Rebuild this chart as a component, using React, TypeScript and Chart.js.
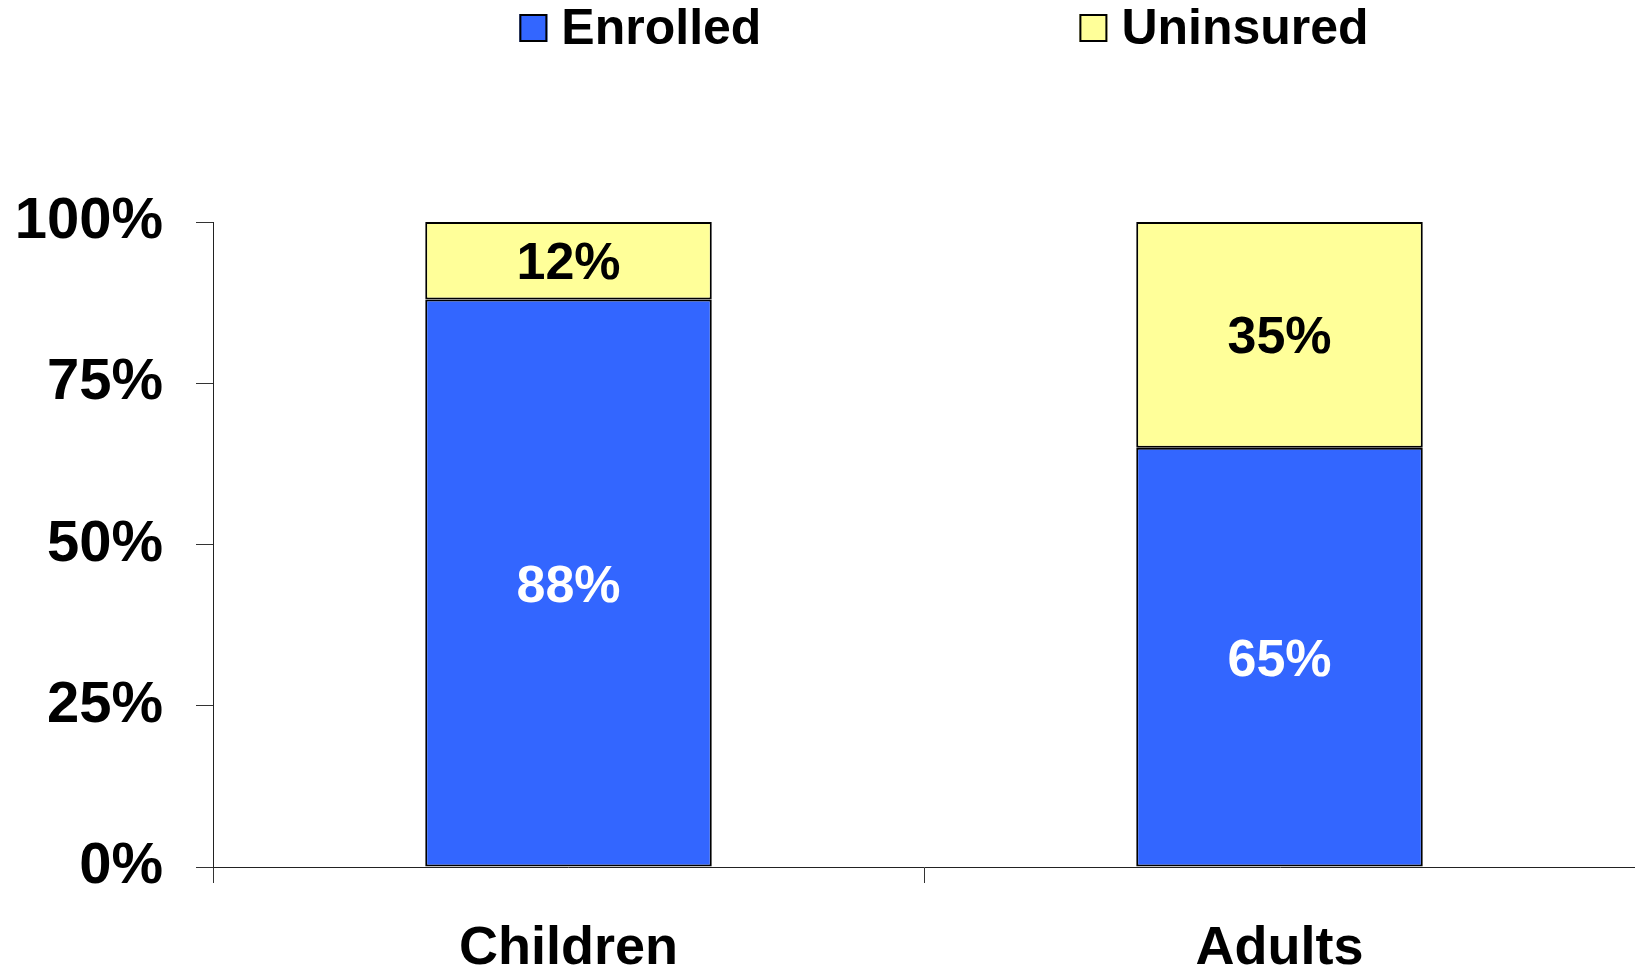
import React, { useEffect, useRef } from "react";
import { Chart, registerables } from "chart.js";

Chart.register(...registerables);

const categories = ["Children", "Adults"];
const enrolled = [88, 65];
const uninsured = [12, 35];
const seriesNames = ["Enrolled", "Uninsured"];
const seriesColors = ["#3366FF", "#FFFF99"];
const valueLabelColors = ["#FFFFFF", "#000000"];
const yTickValues = [0, 25, 50, 75, 100];

const FONT = "'Liberation Sans', Arial, Helvetica, sans-serif";

const valueLabelPlugin = {
  id: "valueLabels",
  afterDatasetsDraw(chart: any) {
    const ctx = chart.ctx;
    ctx.save();
    ctx.font = `bold 52px ${FONT}`;
    ctx.textAlign = "center";
    ctx.textBaseline = "alphabetic";
    chart.data.datasets.forEach((ds: any, di: number) => {
      const meta = chart.getDatasetMeta(di);
      meta.data.forEach((el: any, i: number) => {
        const v = ds.data[i];
        const cy = (el.y + el.base) / 2;
        ctx.fillStyle = valueLabelColors[di];
        ctx.fillText(v + "%", el.x, cy + 0.716 * 52 / 2);
      });
    });
    ctx.restore();
  },
};

const legendPlugin = {
  id: "customLegend",
  afterDraw(chart: any) {
    const ctx = chart.ctx;
    ctx.save();
    const size = 50;
    ctx.font = `bold ${size}px ${FONT}`;
    const box = 28;
    const gapBoxText = 14;
    const itemGap = 318;
    const widths = chart.data.datasets.map((ds: any) => ctx.measureText(ds.label).width);
    let total = 0;
    widths.forEach((w: number, i: number) => {
      total += box + gapBoxText + w + (i > 0 ? itemGap : 0);
    });
    const centerX = 944;
    let x = centerX - total / 2;
    const boxTop = 14;
    const baseline = 44;
    chart.data.datasets.forEach((ds: any, i: number) => {
      ctx.fillStyle = ds.backgroundColor;
      ctx.fillRect(x, boxTop, box, box);
      ctx.strokeStyle = "#000";
      ctx.lineWidth = 2;
      ctx.strokeRect(x + 1, boxTop + 1, box - 2, box - 2);
      ctx.fillStyle = "#000";
      ctx.textAlign = "left";
      ctx.textBaseline = "alphabetic";
      ctx.fillText(ds.label, x + box + gapBoxText, baseline);
      x += box + gapBoxText + widths[i] + itemGap;
    });
    ctx.restore();
  },
};

export default function App() {
  const canvasRef = useRef<HTMLCanvasElement | null>(null);

  useEffect(() => {
    document.body.style.margin = "0";
    const canvas = canvasRef.current;
    if (!canvas) return;
    const chart = new Chart(canvas, {
      type: "bar",
      data: {
        labels: categories,
        datasets: [
          {
            label: seriesNames[0],
            data: enrolled,
            backgroundColor: seriesColors[0],
            borderColor: "#000000",
            borderWidth: 2,
            borderSkipped: false,
            inflateAmount: 0,
            barPercentage: 0.403,
            categoryPercentage: 1,
          },
          {
            label: seriesNames[1],
            data: uninsured,
            backgroundColor: seriesColors[1],
            borderColor: "#000000",
            borderWidth: 2,
            borderSkipped: false,
            inflateAmount: 0,
            barPercentage: 0.403,
            categoryPercentage: 1,
          },
        ],
      },
      options: {
        animation: false,
        responsive: true,
        maintainAspectRatio: false,
        layout: { padding: { top: 222, left: 15, right: 0, bottom: 0 } },
        plugins: {
          legend: { display: false },
          tooltip: { enabled: false },
        },
        scales: {
          x: {
            stacked: true,
            offset: true,
            afterFit: (axis: any) => {
              axis.height = 103;
            },
            grid: {
              offset: true,
              drawOnChartArea: false,
              drawTicks: true,
              tickLength: 16,
              color: "#333333",
              lineWidth: 1,
            },
            border: { display: true, color: "#222222", width: 1 },
            ticks: {
              autoSkip: false,
              maxRotation: 0,
              padding: 39,
              color: "#000000",
              font: { family: FONT, size: 54, weight: "bold", lineHeight: 1 },
            },
          },
          y: {
            stacked: true,
            min: 0,
            max: 100,
            afterFit: (axis: any) => {
              axis.width = 198;
            },
            afterBuildTicks: (axis: any) => {
              axis.ticks = yTickValues.map((v) => ({ value: v }));
            },
            grid: {
              drawOnChartArea: false,
              drawTicks: true,
              tickLength: 17,
              color: "#333333",
              lineWidth: 1,
            },
            border: { display: true, color: "#222222", width: 1 },
            ticks: {
              padding: 33,
              color: "#000000",
              font: { family: FONT, size: 58, weight: "bold", lineHeight: 1.2 },
              callback: (v: any) => v + "%",
            },
          },
        },
      },
      plugins: [valueLabelPlugin, legendPlugin],
    });
    return () => chart.destroy();
  }, []);

  return (
    <div style={{ width: "1635px", height: "970px", position: "relative" }}>
      <canvas ref={canvasRef} />
    </div>
  );
}
